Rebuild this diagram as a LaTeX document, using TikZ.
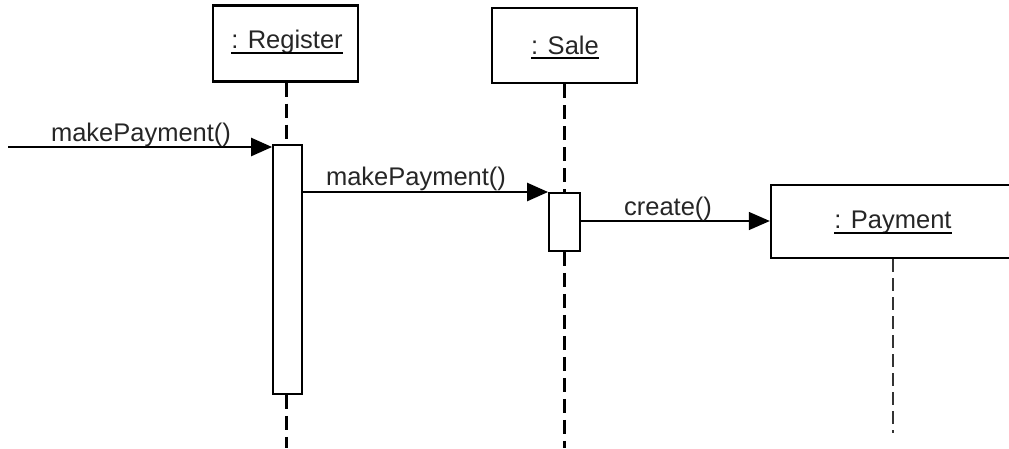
\documentclass[tikz,border=0pt]{standalone}
\usepackage{fontspec}
\setmainfont{Liberation Sans}
\usetikzlibrary{arrows.meta}
\begin{document}
\begin{tikzpicture}[x=1pt,y=-1pt,
  objbox/.style={draw, line width=2.4pt, fill=white, inner sep=0pt},
  objname/.style={inner sep=0pt, anchor=base, text=black!85, font=\fontsize{25.5}{30}\selectfont},
  uline/.style={line width=2.2pt},
  actbox/.style={draw, line width=1.8pt, fill=white, inner sep=0pt},
  life/.style={line width=3pt, dash pattern=on 14pt off 7pt},
  lifethin/.style={line width=2pt, black!80, dash pattern=on 13pt off 6pt},
  msg/.style={line width=2.5pt, -{Triangle[length=21pt,width=18pt]}},
  msgthin/.style={line width=1.5pt, -{Triangle[length=21pt,width=18pt]}},
  msglabel/.style={inner sep=0pt, anchor=base, text=black!85, font=\fontsize{25.5}{30}\selectfont}]
\useasboundingbox (0,0) rectangle (1009,448);

% object heads
\node[objbox, minimum width=145pt, minimum height=76pt] (reg) at (285.5,43.5) {};
\node[objbox, minimum width=145pt, minimum height=75pt] (sale) at (564.5,45.5) {};
\node[objbox, minimum width=250pt, minimum height=73pt] (pay) at (896,221.5) {};

% object names, underlined
\node[objname] (regtxt) at (287,48) {: Register};
\node[objname] (saletxt) at (565,54) {: Sale};
\node[objname] (paytxt) at (893,228) {: Payment};
\draw[uline] ([yshift=-5pt]regtxt.base west) -- ([yshift=-5pt]regtxt.base east);
\draw[uline] ([yshift=-4pt]saletxt.base west) -- ([yshift=-4pt]saletxt.base east);
\draw[uline] ([yshift=-5pt]paytxt.base west) -- ([yshift=-5pt]paytxt.base east);

% activation bars
\node[actbox, minimum width=29pt, minimum height=249pt] (regact) at (287.5,269.5) {};
\node[actbox, minimum width=31pt, minimum height=58pt] (saleact) at (564.5,222) {};

% lifelines
\coordinate (regend) at (286,448);
\coordinate (saleend) at (564,448);
\coordinate (payend) at (893,433);
\draw[life] (reg.south -| regend) -- (regact.north -| regend);
\draw[life] (regact.south -| regend) -- (regend);
\draw[life] (sale.south -| saleend) -- (saleact.north -| saleend);
\draw[life] (saleact.south -| saleend) -- (saleend);
\draw[lifethin] (pay.south -| payend) -- (payend);

% messages
\coordinate (src) at (8,147);
\coordinate (m2) at (0,192);
\coordinate (m3) at (0,221);
\draw[msg] (src) -- (regact.west |- src);
\draw[msg] (regact.east |- m2) -- (saleact.west |- m2);
\draw[msgthin] (saleact.east |- m3) -- (pay.west |- m3);

\node[msglabel] (l1) at (141,141) {makePayment()};
\node[msglabel] (l2) at (416,185) {makePayment()};
\node[msglabel] (l3) at (668,215) {create()};
\end{tikzpicture}
\end{document}
